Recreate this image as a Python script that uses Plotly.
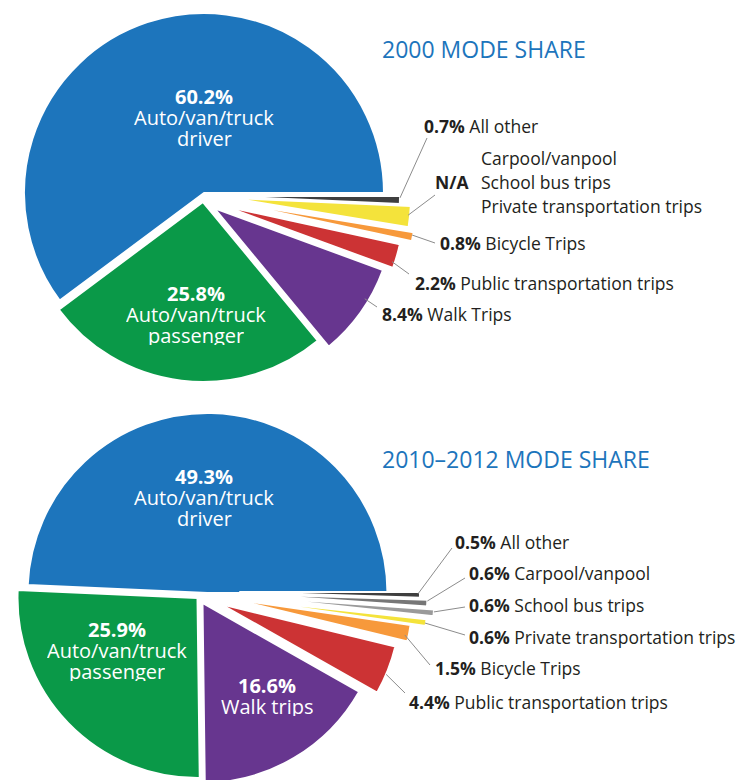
import math
import plotly.graph_objects as go

W, H = 751, 780
PAGE = 8  # default body margin of the html page
FONT = "Open Sans"
BLUE = "#1d75bc"

# ---- data ----
modes_2000 = ["Auto/van/truck\ndriver", "Auto/van/truck\npassenger", "Walk Trips",
              "Public transportation trips", "Bicycle Trips",
              "Carpool/vanpool\nSchool bus trips\nPrivate transportation trips", "All other"]
share_2000 = [60.2, 25.8, 8.4, 2.2, 0.8, 1.9, 0.7]
share_text_2000 = ["60.2%", "25.8%", "8.4%", "2.2%", "0.8%", "N/A", "0.7%"]

modes_2012 = ["Auto/van/truck\ndriver", "Auto/van/truck\npassenger", "Walk trips",
              "Public transportation trips", "Bicycle Trips", "Private transportation trips",
              "School bus trips", "Carpool/vanpool", "All other"]
share_2012 = [49.3, 25.9, 16.6, 4.4, 1.5, 0.6, 0.6, 0.6, 0.5]
share_text_2012 = ["49.3%", "25.9%", "16.6%", "4.4%", "1.5%", "0.6%", "0.6%", "0.6%", "0.5%"]

# ---- styling ----
colors_2000 = [BLUE, "#0a9948", "#67368f", "#cc3334", "#f7993b", "#f4e33b", "#3f3f3f"]
colors_2012 = [BLUE, "#0a9948", "#67368f", "#cc3334", "#f7993b", "#f4e33b",
               "#9a9a9a", "#767676", "#3f3f3f"]

charts = [
    dict(title="2000 MODE SHARE", title_pos=(380, 49), values=share_2000, texts=share_text_2000,
         names=modes_2000, colors=colors_2000, center=(204, 193), radius=180,
         offsets=[(0, 0), (-1, 9), (10, 15), (20, 13), (32, 10), (27, 5), (16, 3)],
         inside={0: (204, 96), 1: (196, 293)},
         outside={2: (380, 314), 3: (413, 283), 4: (438, 243), 5: (480, 182), 6: (422, 126)},
         leaders={2: (0.64, 4, (377, 307)), 3: (0.23, 3, (409, 274)), 4: (0.67, 1, (435, 243)),
                  5: (0.56, 2, (435, 195)), 6: (0.76, 0, (427, 138))}),
    dict(title="2010–2012 MODE SHARE", title_pos=(380, 459), values=share_2012,
         texts=share_text_2012, names=modes_2012, colors=colors_2012, center=(207.5, 593),
         radius=180,
         offsets=[(0, 0), (-10, 5), (-5, 10), (13, 11), (25, 6), (40, 7), (47, 4), (40, 1),
                  (32.5, -1)],
         inside={0: (204, 476), 1: (117, 629), 2: (267, 685)},
         outside={3: (407, 702), 4: (433, 668), 5: (467, 637), 6: (467, 605), 7: (467, 573),
                  8: (453, 542)},
         leaders={3: (0.41, 0, (405, 693)), 4: (0.35, 4, (430, 665)), 5: (0.41, 1, (465, 635)),
                  6: (0.63, 0, (465, 607)), 7: (0.8, 0, (465, 578)), 8: (0.67, 2, (452, 548))}),
]

fig = go.Figure()
annotations = []
shapes = []


def px(x, y):
    # screen pixel -> paper coordinates
    return (x - PAGE) / W, 1 - (y - PAGE) / H


for ch in charts:
    vals = ch["values"]
    n = len(vals)
    total = sum(vals)
    starts = [360 * sum(vals[:i]) / total for i in range(n)]
    ends = [360 * sum(vals[:i + 1]) / total for i in range(n)]
    geo = []
    for i in range(n):
        cx = ch["center"][0] + ch["offsets"][i][0]
        cy = ch["center"][1] + ch["offsets"][i][1]
        fx, fy = cx - PAGE, cy - PAGE
        r = min(ch["radius"], fx, W - fx, fy, H - fy)
        geo.append((cx, cy, r))
        fig.add_trace(go.Pie(
            values=vals[::-1],
            marker=dict(colors=[ch["colors"][j] if j == i else "rgba(0,0,0,0)"
                                for j in range(n)][::-1],
                        line=dict(color="white",
                                  width=[2 if j == i else 0 for j in range(n)][::-1])),
            sort=False, direction="clockwise", rotation=90,
            textinfo="none", hoverinfo="skip", showlegend=False,
            domain=dict(x=[max(0, (fx - r) / W), min(1, (fx + r) / W)],
                        y=[max(0, 1 - (fy + r) / H), min(1, 1 - (fy - r) / H)]),
        ))

    # title
    tx, ty = px(*ch["title_pos"])
    annotations.append(dict(x=tx, y=ty, text=ch["title"], xanchor="left", yanchor="middle",
                            showarrow=False, font=dict(family=FONT, size=23, color=BLUE)))

    # labels inside the big slices
    for i, (lx, ly) in ch["inside"].items():
        lines = ["<b>" + ch["texts"][i] + "</b>"] + ch["names"][i].split("\n")
        for k, line in enumerate(lines):
            ax_, ay_ = px(lx, ly + 21 * k)
            annotations.append(dict(x=ax_, y=ay_, text=line, showarrow=False,
                                    xanchor="center", yanchor="middle", height=20, borderpad=0,
                                    font=dict(family=FONT, size=20, color="white")))

    # labels outside the small slices
    for i, (lx, ly) in ch["outside"].items():
        names = ch["names"][i].split("\n")
        if len(names) > 1:
            ax_, ay_ = px(lx - 9, ly)
            annotations.append(dict(x=ax_, y=ay_, text="<b>" + ch["texts"][i] + "</b>",
                                    showarrow=False, xanchor="right", yanchor="middle",
                                    font=dict(family=FONT, size=17.5, color="#231f20")))
            for k, nm in enumerate(names):
                ax_, ay_ = px(lx, ly + 24 * (k - (len(names) - 1) / 2))
                annotations.append(dict(x=ax_, y=ay_, text=nm, showarrow=False,
                                        xanchor="left", yanchor="middle", height=22,
                                        borderpad=0,
                                        font=dict(family=FONT, size=17.5, color="#231f20")))
        else:
            ax_, ay_ = px(lx, ly)
            annotations.append(dict(x=ax_, y=ay_,
                                    text="<b>" + ch["texts"][i] + "</b> " + names[0],
                                    showarrow=False, xanchor="left", yanchor="middle",
                                    font=dict(family=FONT, size=17.5, color="#231f20")))

    # leader lines from slice to label
    for i, (t, inset, tail) in ch["leaders"].items():
        cx, cy, r = geo[i]
        th = math.radians(starts[i] + t * (ends[i] - starts[i]))
        tipx = cx + (r - inset) * math.cos(th)
        tipy = cy - (r - inset) * math.sin(th)
        x0, y0 = px(tipx, tipy)
        x1, y1 = px(*tail)
        shapes.append(dict(type="line", xref="paper", yref="paper", x0=x0, y0=y0, x1=x1, y1=y1,
                           line=dict(color="#8c8c8c", width=1)))

fig.update_layout(
    width=W, height=H,
    margin=dict(l=0, r=0, t=0, b=0),
    paper_bgcolor="white", plot_bgcolor="white",
    annotations=annotations, shapes=shapes,
    font=dict(family=FONT),
)

fig.write_html("out.html")
